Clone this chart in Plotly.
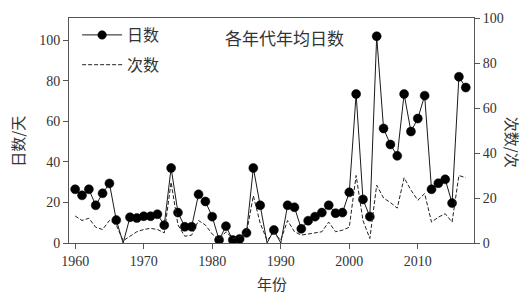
import plotly.graph_objects as go

years = list(range(1960, 2018))

days = [26.5, 23.5, 26.5, 18.6, 24.5, 29.4, 11.3, 0, 12.7, 12.3,
        13.2, 13.2, 14.2, 8.8, 37, 15, 8, 8, 24, 20.5,
        13, 1.5, 8.3, 1.5, 2, 5, 37, 18.6, 0, 6.4,
        0, 18.6, 17.6, 7, 11, 13, 15, 18.6, 14.7, 15,
        25, 73.5, 21.5, 13, 102, 56.5, 48.6, 43, 73.5, 55,
        61.4, 72.7, 26.5, 29.5, 31.4, 19.7, 82, 76.7]

counts = [12, 10, 11, 7, 6, 10, 8, 1, 3, 5,
          6, 6.5, 6, 4.5, 27, 8, 3, 3.5, 10, 8,
          4, 1.5, 5, 2, 2.7, 4.4, 21, 8.8, 1.3, 4.4,
          1.3, 10, 5, 3.5, 4, 4.4, 5, 9.3, 5, 5.7,
          7, 30, 10, 2, 25.7, 20, 18, 15.5, 29, 23.5,
          19, 22, 9.3, 11.5, 13, 9.3, 30, 29]

x_ticks = [1960, 1970, 1980, 1990, 2000, 2010]
y_ticks = [0, 20, 40, 60, 80, 100]

title_text = "各年代年均日数"
legend_days = "日数"
legend_counts = "次数"
x_title = "年份"
y1_title = "日数/天"
y2_title = "次数/次"

serif = "Liberation Serif, Noto Sans CJK SC, serif"
cjk = "Noto Sans CJK SC, sans-serif"
axis_col = "#555555"
txt_col = "#333333"

marker_sizes = [0 if v == 0 else 9 for v in days]

ML, MR, MT, MB = 69, 54, 18, 51
W, H = 528, 294
plot_w = W - ML - MR
plot_h = H - MT - MB

fig = go.Figure()
fig.add_trace(go.Scatter(
    x=years, y=days, name=legend_days, mode="lines+markers",
    line=dict(color="#1a1a1a", width=1),
    marker=dict(color="#000000", size=marker_sizes, opacity=1,
                line=dict(width=0.5, color="#000000")),
    legendgroup="a", yaxis="y",
))
fig.add_trace(go.Scatter(
    x=years, y=counts, name=legend_counts, mode="lines",
    line=dict(color="#222222", width=1, dash="4px,2px"),
    legendgroup="b", yaxis="y2",
))

tickfont = dict(family=serif, size=14, color=txt_col)
fig.update_layout(
    width=W, height=H,
    margin=dict(l=ML, r=MR, t=MT, b=MB),
    paper_bgcolor="white", plot_bgcolor="white",
    showlegend=True,
    legend=dict(x=0.02, y=1.0, xanchor="left", yanchor="top",
                bgcolor="rgba(0,0,0,0)", font=dict(family=cjk, size=16, color=txt_col),
                tracegroupgap=6, itemwidth=40),
    xaxis=dict(range=[1959.1, 2018.2], tickvals=x_ticks, ticks="outside", ticklen=5,
               tickcolor=axis_col, showline=True, linecolor=axis_col, linewidth=1,
               mirror=True, showgrid=False, zeroline=False, tickfont=tickfont),
    yaxis=dict(range=[0, 111], tickvals=y_ticks, ticks="outside", ticklen=5,
               tickcolor=axis_col, showline=True, linecolor=axis_col, linewidth=1,
               showgrid=False, zeroline=False, tickfont=tickfont),
    yaxis2=dict(range=[0, 100], tickvals=y_ticks, ticks="outside", ticklen=5,
                tickcolor=axis_col, showline=True, linecolor=axis_col, linewidth=1,
                showgrid=False, zeroline=False, overlaying="y", side="right",
                tickfont=tickfont),
)

common = dict(xref="paper", yref="paper", showarrow=False, xanchor="center", yanchor="middle")
fig.add_annotation(text=title_text, x=(284.5 - ML) / plot_w, y=1 - (37 - MT) / plot_h,
                   font=dict(family=cjk, size=17, color=txt_col), **common)
fig.add_annotation(text=x_title, x=(272 - ML) / plot_w, y=-(283 - (H - MB)) / plot_h,
                   font=dict(family=cjk, size=15, color=txt_col), **common)
fig.add_annotation(text=y1_title, x=-(ML - 18) / plot_w, y=0.45, textangle=-90,
                   font=dict(family=cjk, size=15, color=txt_col), **common)
fig.add_annotation(text=y2_title, x=1 + (512 - (W - MR)) / plot_w, y=0.45, textangle=90,
                   font=dict(family=cjk, size=15, color=txt_col), **common)

fig.write_html("out.html", config={"displayModeBar": False},
               post_script="document.body.style.margin='0';")
